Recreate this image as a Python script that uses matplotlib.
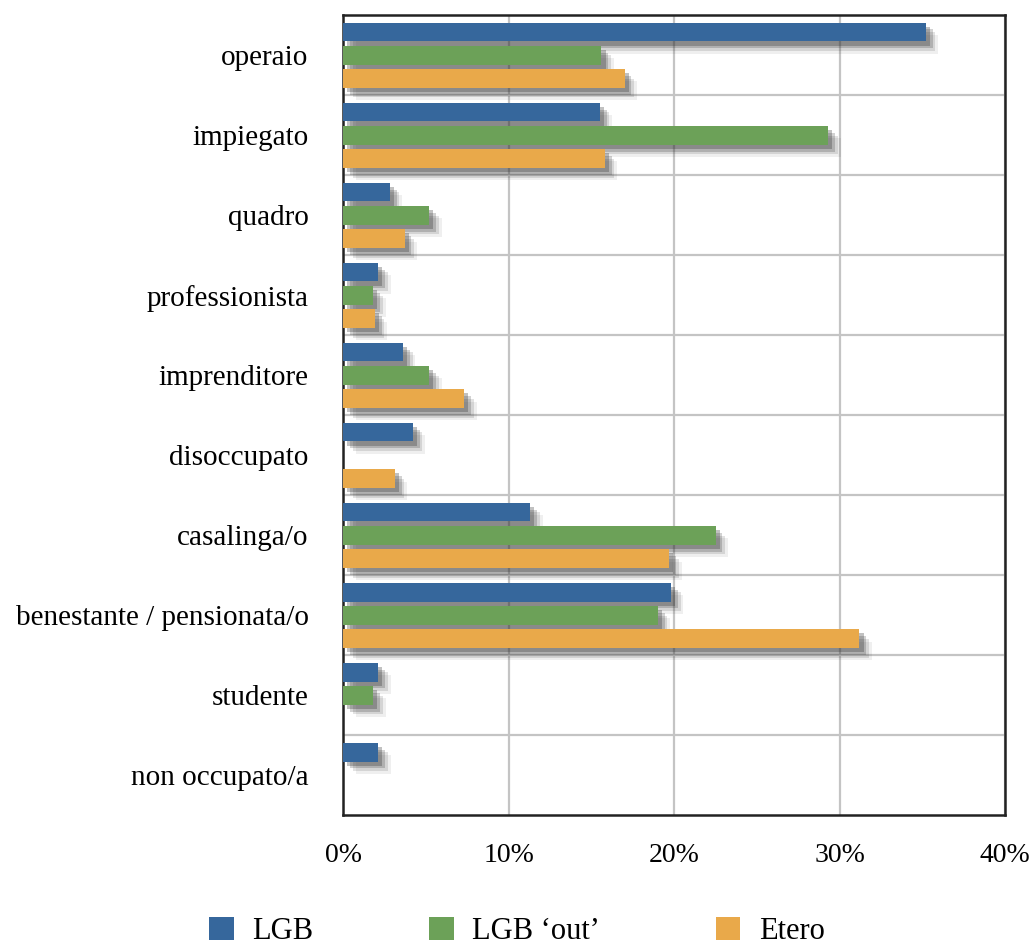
import numpy as np
import matplotlib.pyplot as plt
import matplotlib.patheffects as pe
from matplotlib.patches import Patch

categories = ['operaio', 'impiegato', 'quadro', 'professionista', 'imprenditore',
              'disoccupato', 'casalinga/o', 'benestante / pensionata/o', 'studente',
              'non occupato/a']
lgb = [35.2, 15.5, 2.8, 2.1, 3.6, 4.2, 11.3, 19.8, 2.1, 2.1]
lgb_out = [15.6, 29.3, 5.2, 1.8, 5.2, 0.0, 22.5, 19.0, 1.8, 0.0]
etero = [17.0, 15.8, 3.7, 1.9, 7.3, 3.1, 19.7, 31.2, 0.0, 0.0]
series_names = ['LGB', 'LGB \u2018out\u2019', 'Etero']
colors = ['#36679c', '#6ca158', '#e9a94a']

plt.rcParams['font.family'] = ['Liberation Serif', 'DejaVu Serif']

fig = plt.figure(figsize=(10.34, 9.47), dpi=100)
ax = fig.add_axes([0.332, 0.139, 0.640, 0.845])

y = np.arange(len(categories))
h = 0.235
pitch = 0.29
# soft drop shadow: a few offset layers
shadow = [pe.SimplePatchShadow(offset=(o, -o), shadow_rgbFace='#333333', alpha=a)
          for o, a in [(9, 0.08), (7, 0.14), (5, 0.22), (3, 0.3)]] + [pe.Normal()]
for i, (vals, col) in enumerate(zip([lgb, lgb_out, etero], colors)):
    bars = ax.barh(y + (i - 1) * pitch, vals, height=h, color=col, zorder=3)
    for b in bars:
        if b.get_width() > 0:
            b.set_path_effects(shadow)

ax.set_xlim(0, 40)
ax.set_ylim(len(categories) - 0.5, -0.5)
ax.set_xticks([0, 10, 20, 30, 40])
ax.set_xticklabels(['0%', '10%', '20%', '30%', '40%'])
ax.set_yticks(y)
ax.set_yticklabels(categories, fontsize=21)
ax.set_yticks(np.arange(0.5, len(categories) - 0.5, 1), minor=True)
ax.tick_params(axis='both', which='both', length=0)
ax.tick_params(axis='x', pad=20, labelsize=20)
ax.tick_params(axis='y', pad=25)
ax.grid(True, axis='x', which='major', color='#c4c4c4', lw=1.6, zorder=0)
ax.grid(True, axis='y', which='minor', color='#c4c4c4', lw=1.6, zorder=0)
for s in ax.spines.values():
    s.set_linewidth(1.8)
    s.set_color('#222222')

handles = [Patch(facecolor=c, label=n) for c, n in zip(colors, series_names)]
fig.legend(handles=handles, loc='lower center', bbox_to_anchor=(0.5, -0.015), ncol=3,
           frameon=False, fontsize=22, handlelength=0.8, handleheight=0.8,
           columnspacing=3.8, handletextpad=0.6, borderpad=0)

fig.savefig('out.png', dpi=100)
